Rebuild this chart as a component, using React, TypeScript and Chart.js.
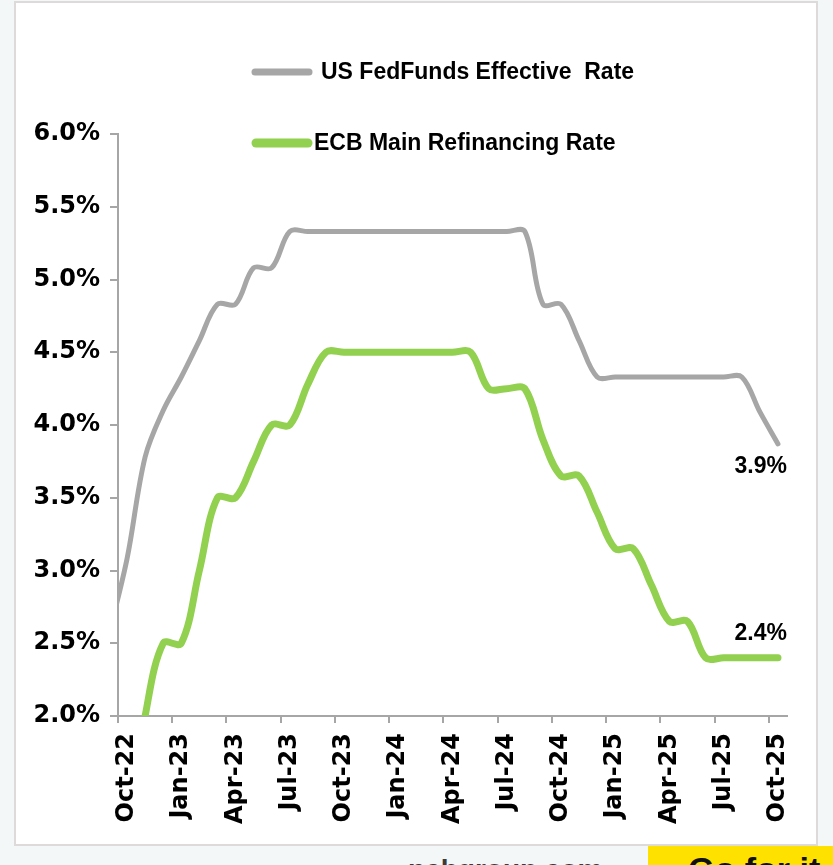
import React, { useEffect, useRef } from 'react';
import { Chart, registerables } from 'chart.js';

Chart.register(...registerables);

// Monthly observations. Sep-22 is a lead-in point that sits left of the axis start and is clipped.
const months = [
  'Sep-22', 'Oct-22', 'Nov-22', 'Dec-22', 'Jan-23', 'Feb-23', 'Mar-23', 'Apr-23', 'May-23', 'Jun-23',
  'Jul-23', 'Aug-23', 'Sep-23', 'Oct-23', 'Nov-23', 'Dec-23', 'Jan-24', 'Feb-24', 'Mar-24', 'Apr-24',
  'May-24', 'Jun-24', 'Jul-24', 'Aug-24', 'Sep-24', 'Oct-24', 'Nov-24', 'Dec-24', 'Jan-25', 'Feb-25',
  'Mar-25', 'Apr-25', 'May-25', 'Jun-25', 'Jul-25', 'Aug-25', 'Sep-25', 'Oct-25',
];

const fedFunds = [
  2.56, 3.08, 3.78, 4.10, 4.33, 4.58, 4.83, 4.83, 5.08, 5.08,
  5.33, 5.33, 5.33, 5.33, 5.33, 5.33, 5.33, 5.33, 5.33, 5.33,
  5.33, 5.33, 5.33, 5.33, 4.83, 4.83, 4.58, 4.33, 4.33, 4.33,
  4.33, 4.33, 4.33, 4.33, 4.33, 4.33, 4.09, 3.87,
];

const ecbRefi = [
  1.25, 1.25, 2.00, 2.50, 2.50, 3.00, 3.50, 3.50, 3.75, 4.00,
  4.00, 4.28, 4.50, 4.50, 4.50, 4.50, 4.50, 4.50, 4.50, 4.50,
  4.50, 4.25, 4.25, 4.25, 3.90, 3.65, 3.65, 3.40, 3.15, 3.15,
  2.90, 2.65, 2.65, 2.40, 2.40, 2.40, 2.40, 2.40,
];

const tickLabels = [
  'Oct-22', 'Jan-23', 'Apr-23', 'Jul-23', 'Oct-23', 'Jan-24', 'Apr-24',
  'Jul-24', 'Oct-24', 'Jan-25', 'Apr-25', 'Jul-25', 'Oct-25',
];

const yTicks = [2.0, 2.5, 3.0, 3.5, 4.0, 4.5, 5.0, 5.5, 6.0];

const seriesNames = ['US FedFunds Effective  Rate', 'ECB Main Refinancing Rate'];

// month index -> axis position (axis starts at the Oct-22 boundary, points sit mid-month)
const posOf = (i: number) => i - 0.5;
// month index -> start-of-month boundary on the axis
const startOf = (i: number) => i - 1;

const legendPlugin = {
  id: 'customLegend',
  afterDraw(chart: any) {
    const ctx = chart.ctx;
    const left = chart.chartArea.left;
    const rows = [
      { y: 69, x0: left + 137, x1: left + 191, tx: left + 203, w: 7 },
      { y: 140, x0: left + 138, x1: left + 190, tx: left + 196, w: 9 },
    ];
    chart.data.datasets.forEach((ds: any, i: number) => {
      const r = rows[i];
      ctx.save();
      ctx.strokeStyle = ds.borderColor;
      ctx.lineWidth = r.w;
      ctx.lineCap = 'round';
      ctx.beginPath();
      ctx.moveTo(r.x0, r.y);
      ctx.lineTo(r.x1, r.y);
      ctx.stroke();
      ctx.fillStyle = '#000000';
      ctx.font = 'bold 23px "Liberation Sans"';
      ctx.textAlign = 'left';
      ctx.textBaseline = 'middle';
      ctx.fillText(ds.label, r.tx, r.y + 1);
      ctx.restore();
    });
  },
};

const endLabelPlugin = {
  id: 'endLabels',
  afterDatasetsDraw(chart: any) {
    const ctx = chart.ctx;
    chart.data.datasets.forEach((ds: any, i: number) => {
      const meta = chart.getDatasetMeta(i);
      const pt = meta.data[meta.data.length - 1];
      const v = ds.data[ds.data.length - 1].y;
      ctx.save();
      ctx.fillStyle = '#000000';
      ctx.font = 'bold 23px "Liberation Sans"';
      ctx.textAlign = 'right';
      ctx.textBaseline = 'middle';
      const dy = i === 0 ? 23 : -24;
      ctx.fillText(v.toFixed(1) + '%', pt.x + 9, pt.y + dy);
      ctx.restore();
    });
  },
};

function RateChart() {
  const ref = useRef<HTMLCanvasElement | null>(null);

  useEffect(() => {
    if (!ref.current) return;
    const axisColor = '#a6a6a6';
    const chart = new Chart(ref.current, {
      type: 'line',
      data: {
        datasets: [
          {
            label: seriesNames[0],
            data: fedFunds.map((v, i) => ({ x: posOf(i), y: v })),
            borderColor: '#a6a6a6',
            borderWidth: 5,
            pointRadius: 0,
            tension: 0.35,
            clip: 0,
            borderCapStyle: 'round',
          },
          {
            label: seriesNames[1],
            data: ecbRefi.map((v, i) => ({ x: posOf(i), y: v })),
            borderColor: '#92d050',
            borderWidth: 7,
            pointRadius: 0,
            tension: 0.35,
            clip: 0,
            borderCapStyle: 'round',
          },
        ],
      },
      options: {
        animation: false,
        responsive: true,
        maintainAspectRatio: false,
        layout: { padding: { top: 131, right: 29, left: 0, bottom: 0 } },
        plugins: {
          legend: { display: false },
          tooltip: { enabled: false },
        },
        scales: {
          x: {
            type: 'linear',
            min: 0,
            max: months.length - 1,
            afterBuildTicks: (scale: any) => {
              scale.ticks = tickLabels.map((l) => ({ value: startOf(months.indexOf(l)) }));
            },
            afterFit: (scale: any) => {
              scale.height = 128;
            },
            ticks: {
              autoSkip: false,
              minRotation: 90,
              maxRotation: 90,
              labelOffset: 9,
              padding: 10,
              color: '#000000',
              font: { family: '"DejaVu Sans"', size: 24, weight: 'bold' },
              callback: (value: any) => months[Math.round(value) + 1],
            },
            grid: {
              drawOnChartArea: false,
              drawTicks: true,
              tickLength: 7,
              color: axisColor,
              lineWidth: 2,
            },
            border: { color: axisColor, width: 2 },
          },
          y: {
            min: 2,
            max: 6,
            afterBuildTicks: (scale: any) => {
              scale.ticks = yTicks.map((v) => ({ value: v }));
            },
            afterFit: (scale: any) => {
              scale.width = 102;
            },
            ticks: {
              padding: 10,
              color: '#000000',
              font: { family: '"DejaVu Sans"', size: 24, weight: 'bold' },
              callback: (value: any) => Number(value).toFixed(1) + '%',
            },
            grid: {
              drawOnChartArea: false,
              drawTicks: true,
              tickLength: 8,
              color: axisColor,
              lineWidth: 2,
            },
            border: { color: axisColor, width: 2 },
          },
        },
      },
      plugins: [legendPlugin, endLabelPlugin],
    } as any);
    return () => chart.destroy();
  }, []);

  return <canvas ref={ref} />;
}

export default function App() {
  return (
    <div
      style={{
        position: 'fixed',
        left: 0,
        top: 0,
        width: 833,
        height: 865,
        overflow: 'hidden',
        background: '#f3f7f7',
      }}
    >
      <div
        style={{
          position: 'absolute',
          left: 14,
          top: 1,
          width: 804,
          height: 845,
          boxSizing: 'border-box',
          border: '2px solid #dedada',
          background: '#ffffff',
        }}
      />
      <div style={{ position: 'absolute', left: 16, top: 3, width: 800, height: 841 }}>
        <RateChart />
      </div>
      <div
        style={{
          position: 'absolute',
          left: 408,
          top: 854,
          fontFamily: '"Liberation Sans", sans-serif',
          fontWeight: 'bold',
          fontSize: 28,
          color: '#3a3a3a',
          whiteSpace: 'nowrap',
        }}
      >
        ncbgroup.com
      </div>
      <div
        style={{
          position: 'absolute',
          left: 648,
          top: 846,
          width: 185,
          height: 40,
          background: '#ffe100',
        }}
      >
        <div
          style={{
            position: 'absolute',
            left: 40,
            top: 4,
            fontFamily: '"Liberation Sans", sans-serif',
            fontWeight: 'bold',
            fontSize: 34,
            color: '#111111',
            whiteSpace: 'nowrap',
          }}
        >
          Go for it
        </div>
      </div>
    </div>
  );
}
